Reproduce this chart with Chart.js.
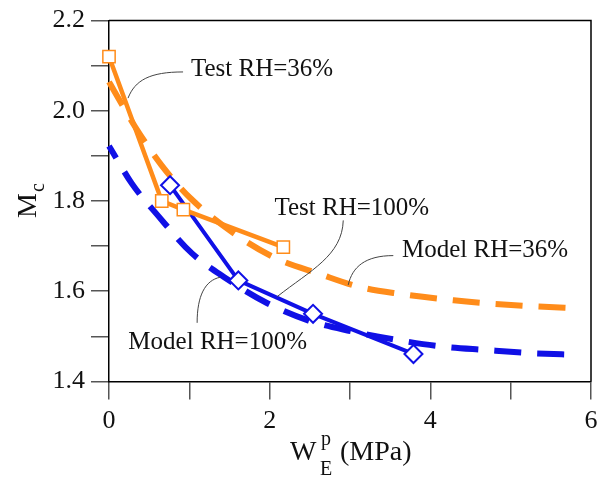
<!DOCTYPE html>
<html>
<head>
<meta charset="utf-8">
<script src="https://cdn.jsdelivr.net/npm/chart.js@4/dist/chart.umd.min.js"></script>
<style>
html,body{margin:0;padding:0;background:#fff;overflow:hidden;width:598px;height:478px;}
canvas{display:block;}
</style>
</head>
<body>
<canvas id="c" width="602" height="478"></canvas>
<script>
// ---- data ----
const test36X  = [0, 0.657, 0.926, 2.17];
const test36Y  = [2.12, 1.80, 1.781, 1.698];
const test100X = [0.76, 1.61, 2.54, 3.79];
const test100Y = [1.835, 1.624, 1.55, 1.461];
const model36X = [0, 0.063, 0.325, 0.655, 1.018, 1.59, 2.09, 2.61, 3.13, 3.63, 4.29, 4.8, 5.35, 5.83];
const model36Y = [2.064, 2.0445, 1.9645, 1.879, 1.8055, 1.724, 1.672, 1.639, 1.609, 1.594, 1.58, 1.572, 1.566, 1.562];
const model100X = [0, 0.05, 0.285, 0.615, 1.03, 1.435, 1.965, 2.485, 2.985, 3.575, 4.145, 4.685, 5.245, 5.83];
const model100Y = [1.922, 1.907, 1.8385, 1.7665, 1.6845, 1.631, 1.574, 1.535, 1.5125, 1.4925, 1.4775, 1.47, 1.463, 1.459];
const xTickLabels = ['0', '2', '4', '6'];
const yTickLabels = ['1.4', '1.6', '1.8', '2.0', '2.2'];
const labelTexts = ['Test RH=36%', 'Test RH=100%', 'Model RH=36%', 'Model RH=100%'];
// label anchors (data units) and leader curves (data units)
const labelPos = [[1.02, 2.076], [2.06, 1.768], [3.647, 1.6756], [0.241, 1.472]];
const leaders = [
  [[0.922, 2.086], [0.511, 2.086], [0.324, 2.068], [0.237, 2.028]],
  [[2.916, 1.757], [2.903, 1.679], [2.505, 1.646], [2.093, 1.588]],
  [[3.539, 1.679], [3.190, 1.679], [3.028, 1.654], [2.978, 1.614]],
  [[1.097, 1.530], [1.097, 1.590], [1.196, 1.624], [1.383, 1.631]]
];

const ORANGE = '#ff8c1a';
const BLUE = '#1010e6';
const pts = (xs, ys) => xs.map((x, i) => ({x: x, y: ys[i]}));
const SERIF = '"Liberation Serif", "DejaVu Serif", serif';

const overlay = {
  id: 'overlay',
  afterDraw(chart) {
    const {ctx, chartArea: a, scales: {x, y}} = chart;
    const P = (p) => [x.getPixelForValue(p[0]), y.getPixelForValue(p[1])];
    ctx.save();
    // top & right frame
    ctx.strokeStyle = '#000';
    ctx.lineWidth = 1.5;
    ctx.beginPath();
    ctx.moveTo(a.left, a.top);
    ctx.lineTo(a.right, a.top);
    ctx.lineTo(a.right, a.bottom);
    ctx.stroke();
    // leader lines
    ctx.strokeStyle = '#444';
    ctx.lineWidth = 1;
    leaders.forEach(L => {
      const p0 = P(L[0]), c1 = P(L[1]), c2 = P(L[2]), p1 = P(L[3]);
      ctx.beginPath();
      ctx.moveTo(p0[0], p0[1]);
      ctx.bezierCurveTo(c1[0], c1[1], c2[0], c2[1], p1[0], p1[1]);
      ctx.stroke();
    });
    // labels
    ctx.fillStyle = '#111';
    ctx.font = '25px ' + SERIF;
    ctx.textAlign = 'left';
    ctx.textBaseline = 'alphabetic';
    labelTexts.forEach((t, i) => {
      const p = P(labelPos[i]);
      ctx.fillText(t, p[0], p[1]);
    });
    // y title M_c
    ctx.save();
    ctx.translate(36, 218);
    ctx.rotate(-Math.PI / 2);
    ctx.font = '28px ' + SERIF;
    ctx.fillText('M', 0, 0);
    const wM = ctx.measureText('M').width;
    ctx.font = '20px ' + SERIF;
    ctx.fillText('c', wM + 1, 8);
    ctx.restore();
    // x title W_E^p (MPa)
    ctx.font = '28px ' + SERIF;
    ctx.fillText('W', 290, 460);
    ctx.font = '20px ' + SERIF;
    ctx.fillText('p', 321, 445);
    ctx.fillText('E', 320, 475);
    ctx.font = '28px ' + SERIF;
    ctx.fillText('(MPa)', 340, 460);
    ctx.restore();
  }
};

new Chart(document.getElementById('c'), {
  type: 'scatter',
  data: {
    datasets: [
      {
        label: 'Test RH=36%', data: pts(test36X, test36Y), showLine: true, clip: false,
        borderColor: ORANGE, borderWidth: 4.5, borderJoinStyle: 'round',
        pointStyle: 'rect', pointRadius: 8.7, pointBorderWidth: 1.5,
        pointBackgroundColor: '#fff', pointBorderColor: ORANGE, tension: 0
      },
      {
        label: 'Test RH=100%', data: pts(test100X, test100Y), showLine: true, clip: false,
        borderColor: BLUE, borderWidth: 4, borderJoinStyle: 'round',
        pointStyle: 'rectRot', pointRadius: 9, pointBorderWidth: 2,
        pointBackgroundColor: '#fff', pointBorderColor: BLUE, tension: 0
      },
      {
        label: 'Model RH=36%', data: pts(model36X, model36Y), showLine: true, clip: false,
        borderColor: ORANGE, borderWidth: 6, borderDash: [27, 16], borderDashOffset: 0,
        pointRadius: 0, cubicInterpolationMode: 'monotone'
      },
      {
        label: 'Model RH=100%', data: pts(model100X, model100Y), showLine: true, clip: false,
        borderColor: BLUE, borderWidth: 6, borderDash: [27, 16], borderDashOffset: 13,
        pointRadius: 0, cubicInterpolationMode: 'monotone'
      }
    ]
  },
  options: {
    responsive: false,
    animation: false,
    layout: {padding: {top: 20.5, right: 7, left: 0, bottom: 0}},
    plugins: {legend: {display: false}, tooltip: {enabled: false}},
    scales: {
      x: {
        type: 'linear', min: 0, max: 6,
        afterFit: (s) => {
          s.height = 96.5; s.paddingRight = 0; s.paddingLeft = 0;
          if (s._margins) { s._margins.right = 0; s._margins.left = 0; }
        },
        ticks: {
          stepSize: 1, autoSkip: false, maxRotation: 0, padding: 6,
          color: '#111', font: {family: SERIF, size: 26},
          callback: (v) => {
            const i = xTickLabels.indexOf(String(Math.round(v)));
            return (Math.abs(v - Math.round(v)) < 1e-6 && Math.round(v) % 2 === 0 && i >= 0) ? xTickLabels[i] : '';
          }
        },
        grid: {drawOnChartArea: false, drawTicks: true, tickLength: 18, color: '#555', lineWidth: 1.5},
        border: {display: true, color: '#000', width: 1.5}
      },
      y: {
        type: 'linear', min: 1.4, max: 2.2,
        afterFit: (s) => { s.width = 109; s.paddingTop = 0; s.paddingBottom = 0; },
        ticks: {
          stepSize: 0.1, autoSkip: false, padding: 6,
          color: '#111', font: {family: SERIF, size: 26},
          callback: (v) => {
            const s = v.toFixed(1);
            return (Math.abs(v * 5 - Math.round(v * 5)) < 1e-6 && yTickLabels.includes(s)) ? s : '';
          }
        },
        grid: {drawOnChartArea: false, drawTicks: true, tickLength: 18, color: '#555', lineWidth: 1.5},
        border: {display: true, color: '#000', width: 1.5}
      }
    }
  },
  plugins: [overlay]
});
</script>
</body>
</html>
